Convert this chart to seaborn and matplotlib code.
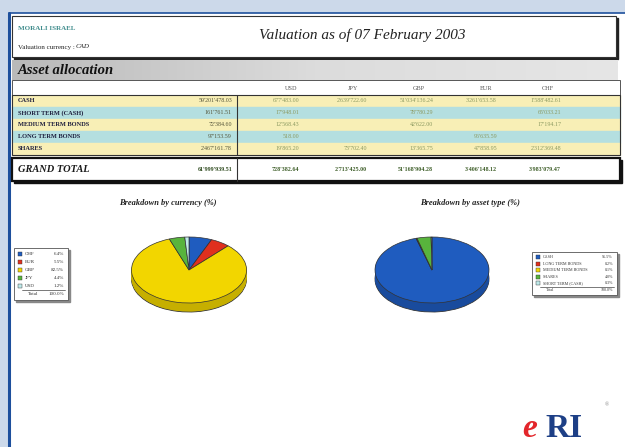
import numpy as np
import matplotlib
matplotlib.use("Agg")
import matplotlib.pyplot as plt
import matplotlib.colors as mcolors
from matplotlib.patches import Rectangle
import seaborn as sns

# data (values in CAD)
categories = ["CASH", "SHORT TERM (CASH)", "MEDIUM TERM BONDS", "LONG TERM BONDS", "SHARES"]
currencies = ["USD", "JPY", "GBP", "EUR", "CHF"]
usd = [677483.00, 17948.01, 12568.43, 518.00, 19865.20]
jpy = [2639722.60, np.nan, np.nan, np.nan, 73702.40]
gbp = [51034136.24, 78780.29, 42622.00, np.nan, 13365.75]
eur = [3261653.58, np.nan, np.nan, 96635.59, 47858.95]
chf = [1588482.61, 65033.21, 17194.17, np.nan, 2312369.48]

pie_colors = ["#1f5cbf", "#e0301e", "#f2d600", "#58b43c", "#bfeaea"]
currency_order = ["CHF", "EUR", "GBP", "JPY", "USD"]
asset_order = ["CASH", "LONG TERM BONDS", "MEDIUM TERM BONDS", "SHARES", "SHORT TERM (CASH)"]

sns.set_theme(style="white")
plt.rcParams["font.family"] = ["Liberation Serif", "DejaVu Serif"]

table = np.array([usd, jpy, gbp, eur, chf]).T  # rows = categories
row_tot = np.nansum(table, axis=1)
col_tot = np.nansum(table, axis=0)
grand = row_tot.sum()

cur_vals = [col_tot[currencies.index(c)] for c in currency_order]
asset_vals = [row_tot[categories.index(a)] for a in asset_order]
pal = sns.color_palette(pie_colors)


def fmt(v):
    if np.isnan(v):
        return ""
    return f"{v:,.2f}".replace(",", "'")


W, H = 625, 447
fig = plt.figure(figsize=(W / 100, H / 100), dpi=100)
bg = fig.add_axes([0, 0, 1, 1])
bg.set_xlim(0, W)
bg.set_ylim(H, 0)
bg.axis("off")

# page background / frame
bg.add_patch(Rectangle((0, 0), W, H, color="#ccd9ea", zorder=0))
bg.add_patch(Rectangle((9, 13), W - 9, H - 13, color="white", zorder=1))
bg.plot([9, 9], [13, H], color="#1d4f9c", lw=2.2, zorder=2)
bg.plot([9, W], [13, 13], color="#1d4f9c", lw=1.2, zorder=2)

# header box
bg.add_patch(Rectangle((14, 18), 604, 41, color="#222222", zorder=2))
bg.add_patch(Rectangle((12, 16), 604, 41, facecolor="white", edgecolor="#333333", lw=0.8, zorder=3))
bg.text(18, 28, "MORALI ISRAEL", fontsize=5, color="#3f8c8c", fontweight="bold", va="center", zorder=4)
bg.text(18, 47, "Valuation currency :", fontsize=5, color="#222222", va="center", zorder=4)
bg.text(76, 47, "CAD", fontsize=5, color="#222222", style="italic", va="center", zorder=4)
bg.text(362, 35, "Valuation as of 07 February 2003", fontsize=11, style="italic",
        color="#222222", ha="center", va="center", zorder=4)

# asset allocation band
grad = np.linspace(0, 1, 256).reshape(1, -1)
cmap = mcolors.LinearSegmentedColormap.from_list("band", ["#b9b9b9", "#dcdcdc", "#e6e6e6"])
bg.imshow(grad, extent=[12, 618, 80, 60], cmap=cmap, aspect="auto", zorder=2)
bg.text(18, 71, "Asset allocation", fontsize=10.5, fontweight="bold", style="italic",
        color="#111111", va="center", zorder=4)

# table header row
col_right = [299, 367, 433, 497, 561]
col_head = [291, 353, 419, 486, 548]
bg.add_patch(Rectangle((12, 80), 608, 15, facecolor="white", edgecolor="#555555", lw=0.7, zorder=3))
for x, c in zip(col_head, currencies):
    bg.text(x, 88, c, fontsize=4.5, color="#555555", ha="center", va="center", zorder=4)

row_colors = ["#f8efb6", "#b4dfe0"]
row_h = 12
for i, cat in enumerate(categories):
    y = 95 + i * row_h
    bg.add_patch(Rectangle((12, y), 608, row_h, color=row_colors[i % 2], zorder=2))
    bg.text(18, y + row_h / 2, cat, fontsize=4.6, fontweight="bold", color="#1c1c3c", va="center", zorder=4)
    bg.text(232, y + row_h / 2, fmt(row_tot[i]), fontsize=4.3, color="#55553a",
            ha="right", va="center", zorder=4)
    for j in range(len(currencies)):
        bg.text(col_right[j], y + row_h / 2, fmt(table[i, j]), fontsize=4.3, color="#8c9a62",
                ha="right", va="center", zorder=4)
bg.add_patch(Rectangle((12, 95), 608, row_h * 5, fill=False, edgecolor="#333333", lw=0.8, zorder=3))
bg.plot([237, 237], [95, 155], color="#333333", lw=0.8, zorder=4)

# grand total
bg.add_patch(Rectangle((14, 160), 608, 23, color="#111111", zorder=2))
bg.add_patch(Rectangle((12, 158), 608, 23, facecolor="white", edgecolor="#111111", lw=1.6, zorder=3))
bg.plot([237, 237], [158, 181], color="#333333", lw=0.8, zorder=4)
bg.text(18, 169.5, "GRAND TOTAL", fontsize=7.5, fontweight="bold", style="italic",
        color="#1a1a1a", va="center", zorder=4)
bg.text(232, 169.5, fmt(grand), fontsize=4.3, fontweight="bold", color="#2e4a1e",
        ha="right", va="center", zorder=4)
for j in range(len(currencies)):
    bg.text(col_right[j], 169.5, fmt(col_tot[j]), fontsize=4.3, fontweight="bold",
            color="#3f5f2a", ha="right", va="center", zorder=4)

# pie titles
bg.text(168, 203, "Breakdown by currency (%)", fontsize=6, fontweight="bold", style="italic",
        color="#222222", ha="center", va="center", zorder=4)
bg.text(470, 203, "Breakdown by asset type (%)", fontsize=6, fontweight="bold", style="italic",
        color="#222222", ha="center", va="center", zorder=4)


def pie_axes(cx, cy, rx, ry, th):
    ax = fig.add_axes([(cx - rx) / W, 1 - (cy + ry + th) / H, 2 * rx / W, (2 * ry + th) / H])
    return ax


def draw_pie(ax, values, colors, t):
    dark = [tuple(min(1, ch * 0.82) for ch in mcolors.to_rgb(c)) for c in colors]
    for k, off in enumerate(np.linspace(-t, 0, 14)[:-1]):
        ax.pie(values, colors=dark, startangle=90, counterclock=False, center=(0, off),
               wedgeprops=dict(linewidth=0.6 if k == 0 else 0, edgecolor="#333333"))
    ax.pie(values, colors=colors, startangle=90, counterclock=False, center=(0, 0),
           wedgeprops=dict(linewidth=0.5, edgecolor="#333333"))
    ax.set_xlim(-1.0, 1.0)
    ax.set_ylim(-1 - t, 1.0)
    ax.set_aspect("auto")
    ax.axis("off")


ry, th = 33, 9
ax1 = pie_axes(189, 270, 57.5, ry, th)
draw_pie(ax1, cur_vals, pal, th / ry)
ax2 = pie_axes(432, 270, 57, ry, th)
draw_pie(ax2, asset_vals, pal, th / ry)


def draw_legend(x0, y0, w, h, labels, values, colors, fs):
    n = len(labels)
    rh = (h - 4) / (n + 1)
    bg.add_patch(Rectangle((x0 + 1.5, y0 + 1.5), w, h, color="#888888", zorder=2))
    bg.add_patch(Rectangle((x0, y0), w, h, facecolor="white", edgecolor="#555555", lw=0.6, zorder=3))
    tot = sum(values)
    for i, (lab, v, c) in enumerate(zip(labels, values, colors)):
        yc = y0 + 2 + rh * (i + 0.5)
        bg.add_patch(Rectangle((x0 + 4, yc - 2), 4, 4, facecolor=c, edgecolor="#333333", lw=0.3, zorder=4))
        bg.text(x0 + 11, yc, lab, fontsize=fs, color="#333333", va="center", zorder=5)
        bg.text(x0 + w - 4, yc, f"{100 * v / tot:.1f}%", fontsize=fs, color="#333333",
                ha="right", va="center", zorder=5)
    yl = y0 + 2 + rh * n
    bg.plot([x0 + 8, x0 + w - 3], [yl, yl], color="#444444", lw=0.5, zorder=4)
    bg.text(x0 + 14, yl + rh / 2, "Total", fontsize=fs, color="#333333", va="center", zorder=5)
    bg.text(x0 + w - 4, yl + rh / 2, f"{100 * sum(values) / tot:.1f}%", fontsize=fs,
            color="#333333", ha="right", va="center", zorder=5)


draw_legend(14, 248, 54, 52, currency_order, cur_vals, pal, 3.6)
draw_legend(532, 252, 85, 43, asset_order, asset_vals, pal, 3.0)

# logo
bg.text(522, 437, "e", fontsize=24, fontweight="bold", style="italic", color="#e3262b",
        va="baseline", zorder=4)
bg.text(545, 437, "RI", fontsize=24, fontweight="bold", color="#1d3f86", va="baseline", zorder=4)
bg.text(605, 405, "\u00ae", fontsize=4, color="#888888", va="center", zorder=4)

fig.savefig("out.png", dpi=100)
